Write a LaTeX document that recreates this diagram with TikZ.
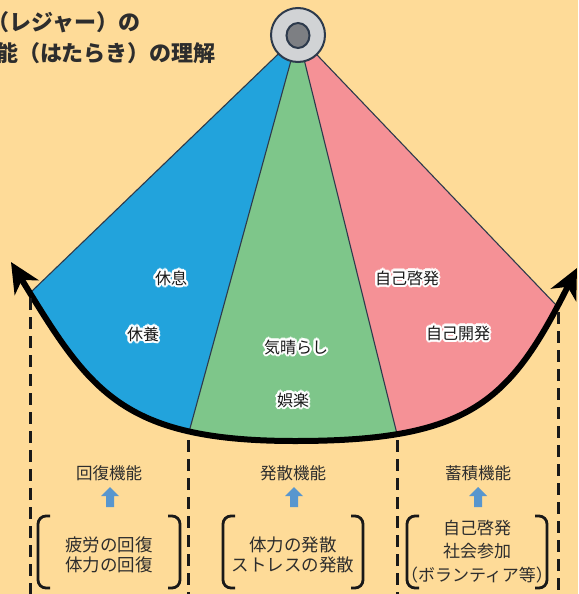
\documentclass[tikz,border=0pt]{standalone}
\usepackage{fontspec}
\setmainfont{Noto Sans CJK JP}
\usetikzlibrary{arrows.meta,calc}
\definecolor{bg}{RGB}{254,219,152}
\definecolor{fanblue}{RGB}{34,163,220}
\definecolor{fangreen}{RGB}{126,198,138}
\definecolor{fanpink}{RGB}{245,145,150}
\definecolor{edgecol}{RGB}{45,58,76}
\definecolor{pivfill}{RGB}{209,211,213}
\definecolor{pivinner}{RGB}{125,127,131}
\definecolor{upblue}{RGB}{88,150,206}
\definecolor{ink}{RGB}{25,25,25}
\definecolor{txt}{RGB}{45,45,45}
\newcommand{\halolabel}[3]{%
  \foreach \a in {0,22.5,...,337.5}{\node[wlabel,text=white,shift={(\a:2.2pt)}] at (#2) {#3};}
  \node[wlabel] (#1) at (#2) {#3};}
\newcommand{\upblock}[2]{%
  \fill[uparrow,shift={(#2,0)}] (0,487) -- (9,496) -- (4,496) -- (4,507) -- (-4,507) -- (-4,496) -- (-9,496) -- cycle;
  \coordinate (#1) at (#2,497);}
\begin{document}
\begin{tikzpicture}[x=1pt,y=-1pt,
  wlabel/.style={font=\fontsize{16}{18}\selectfont, text=ink, inner sep=0pt},
  flabel/.style={font=\fontsize{16.5}{19}\selectfont, text=txt, inner sep=0pt},
  blabel/.style={font=\fontsize{17.5}{20}\selectfont, text=txt, inner sep=0pt, align=center},
  blabelwide/.style={font=\fontsize{17}{23.5}\selectfont, text=txt, inner sep=0pt, align=center},
  titletext/.style={font=\bfseries\fontsize{22}{24}\selectfont, text=txt, inner sep=0pt, anchor=east},
  edge/.style={draw=edgecol, line width=1.1pt},
  dashline/.style={draw=ink, line width=3pt, dash pattern=on 12pt off 7pt},
  bracketline/.style={draw=ink, line width=2.8pt, rounded corners=8pt},
  uparrow/.style={fill=upblue},
  swing/.style={draw=black, line width=6pt,
    {Stealth[length=30pt,width=28pt,inset=9pt]}-{Stealth[length=30pt,width=28pt,inset=9pt]}}]
\useasboundingbox[fill=bg] (0,0) rectangle (578,594);

% key points
\coordinate (P) at (298,35);
\coordinate (A) at (30,293);
\coordinate (B) at (189,432);
\coordinate (C) at (397,434);
\coordinate (D) at (557,306);
\coordinate (LT) at (11,262);
\coordinate (RT) at (577,268);
\coordinate (M) at (295,441);

% fan wedges
\begin{scope}
  \clip (LT) .. controls (89,389.5) and (120,441) .. (M) .. controls (470,441) and (510,402) .. (RT) -- (P) -- cycle;
  \fill[fanblue] (P) -- ($(P)!1.3!(A)$) -- ($(P)!1.2!(B)$) -- cycle;
  \fill[fangreen] (P) -- ($(P)!1.2!(B)$) -- ($(P)!1.2!(C)$) -- cycle;
  \fill[fanpink] (P) -- ($(P)!1.2!(C)$) -- ($(P)!1.3!(D)$) -- cycle;
\end{scope}
\draw[edge] (P) -- (A);
\draw[edge] (P) -- (B);
\draw[edge] (P) -- (C);
\draw[edge] (P) -- (D);

% swing arc
\draw[swing] (LT) .. controls (89,389.5) and (120,441) .. (M) .. controls (470,441) and (510,402) .. (RT);

% dashed guides
\coordinate (d1) at (30,298);  \coordinate (d1b) at (30,594);
\coordinate (d2) at (188,440); \coordinate (d2b) at (188,594);
\coordinate (d3) at (397,440); \coordinate (d3b) at (397,594);
\coordinate (d4) at (558,312); \coordinate (d4b) at (558,594);
\draw[dashline] (d1) -- (d1b);
\draw[dashline] (d2) -- (d2b);
\draw[dashline] (d3) -- (d3b);
\draw[dashline] (d4) -- (d4b);

% pivot
\draw[edgecol, line width=2pt, fill=pivfill] (P) circle[radius=27];
\draw[edgecol, line width=2pt, fill=pivinner] (298,35.5) ellipse[x radius=11.5, y radius=12.5];

% title (cropped at the left edge, as in the reference)
\node[titletext] (t1) at (141,22) {（レジャー）の};
\node[titletext] (t2) at (216,53) {能（はたらき）の理解};

% wedge labels
\halolabel{l1}{171,278}{休息}
\halolabel{l2}{143,334}{休養}
\halolabel{l3}{296,347}{気晴らし}
\halolabel{l4}{293,400}{娯楽}
\halolabel{l5}{407,278}{自己啓発}
\halolabel{l6}{458,333}{自己開発}

% function labels
\node[flabel] (f1) at (109,473) {回復機能};
\node[flabel] (f2) at (293,473) {発散機能};
\node[flabel] (f3) at (478,473) {蓄積機能};
\upblock{u1}{110}
\upblock{u2}{294}
\upblock{u3}{478}

% brackets
\draw[bracketline] (50,516) -- (38,516) -- (38,588) -- (50,588);
\draw[bracketline] (168,516) -- (180,516) -- (180,588) -- (168,588);
\draw[bracketline] (235,516) -- (223,516) -- (223,588) -- (235,588);
\draw[bracketline] (351,516) -- (363,516) -- (363,588) -- (351,588);
\draw[bracketline] (419,516) -- (407,516) -- (407,588) -- (419,588);
\draw[bracketline] (535,516) -- (547,516) -- (547,588) -- (535,588);

\node[blabel] (b1) at (109,555) {疲労の回復\\体力の回復};
\node[blabel] (b2) at (293,555) {体力の発散\\ストレスの発散};
\node[blabelwide] (b3) at (477,551.5) {自己啓発\\社会参加\\（ボランティア等）};
\end{tikzpicture}
\end{document}
